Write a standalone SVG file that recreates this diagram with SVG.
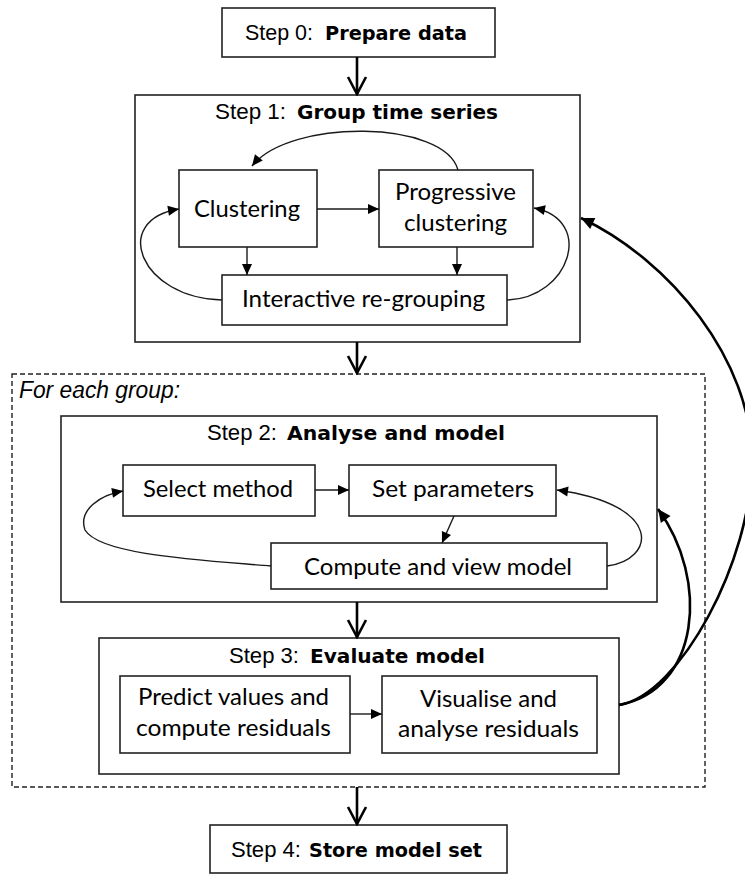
<svg xmlns="http://www.w3.org/2000/svg" width="745" height="874" viewBox="0 0 745 874">
<style>
  .box { fill: #fff; stroke: #222; stroke-width: 1.6; }
  .dash { fill: none; stroke: #222; stroke-width: 1.4; stroke-dasharray: 5 3; }
  .reg { font-family: "Liberation Sans", Arial, sans-serif; font-size: 22px; fill: #000; }
  .bold { font-family: "DejaVu Sans", "Liberation Sans", sans-serif; font-weight: bold; font-size: 20px; fill: #000; }
  .ital { font-family: "Liberation Sans", Arial, sans-serif; font-style: italic; font-size: 23px; fill: #000; }
  .lbl { font-family: Lato, "Noto Sans", sans-serif; font-size: 24px; fill: #000; text-anchor: middle; }
  .thin { fill: none; stroke: #1a1a1a; stroke-width: 1.4; marker-end: url(#tri); }
  .thick { fill: none; stroke: #000; stroke-width: 2.6; marker-end: url(#triBig); }
  .main { fill: none; stroke: #000; stroke-width: 2.6; marker-end: url(#vee); }
</style>
<defs>
  <marker id="tri" viewBox="-12 -6 13 12" refX="0" refY="0" markerWidth="13" markerHeight="12" markerUnits="userSpaceOnUse" orient="auto">
    <path d="M0,0 L-11,-5 L-11,5 Z" fill="#000"/>
  </marker>
  <marker id="triBig" viewBox="-14 -7 15 14" refX="0" refY="0" markerWidth="15" markerHeight="14" markerUnits="userSpaceOnUse" orient="auto">
    <path d="M0,0 L-13,-6 L-13,6 Z" fill="#000"/>
  </marker>
  <marker id="vee" viewBox="-20 -12 22 24" refX="0" refY="0" markerWidth="22" markerHeight="24" markerUnits="userSpaceOnUse" orient="auto">
    <path d="M-17,-9 L0,0 L-17,9" fill="none" stroke="#000" stroke-width="2.6" stroke-linejoin="miter"/>
  </marker>
</defs>

<g id="group-foreach">
  <rect class="dash" x="12" y="374" width="693" height="413"/>
  <text class="ital" x="19" y="398" textLength="161" lengthAdjust="spacingAndGlyphs">For each group:</text>
</g>

<g id="step0">
  <rect class="box" x="222" y="8" width="273" height="49"/>
  <text class="reg" x="245" y="40" textLength="68" lengthAdjust="spacingAndGlyphs">Step 0:</text>
  <text class="bold" x="325" y="40" textLength="142" lengthAdjust="spacingAndGlyphs">Prepare data</text>
</g>

<g id="step1">
  <rect class="box" x="135" y="95" width="445" height="247"/>
  <text class="reg" x="215" y="119" textLength="71" lengthAdjust="spacingAndGlyphs">Step 1:</text>
  <text class="bold" x="297" y="119" textLength="201" lengthAdjust="spacingAndGlyphs">Group time series</text>
</g>
<g id="clustering">
  <rect class="box" x="179" y="170" width="138" height="77"/>
  <text class="lbl" x="247" y="217" textLength="106" lengthAdjust="spacingAndGlyphs">Clustering</text>
</g>
<g id="progressive">
  <rect class="box" x="379" y="170" width="154" height="77"/>
  <text class="lbl" x="455.5" y="200" textLength="121" lengthAdjust="spacingAndGlyphs">Progressive</text>
  <text class="lbl" x="455.5" y="231" textLength="103" lengthAdjust="spacingAndGlyphs">clustering</text>
</g>
<g id="regrouping">
  <rect class="box" x="222" y="275" width="285" height="50"/>
  <text class="lbl" x="363.5" y="307" textLength="243" lengthAdjust="spacingAndGlyphs">Interactive re-grouping</text>
</g>

<g id="step2">
  <rect class="box" x="61" y="416" width="596" height="186"/>
  <text class="reg" x="207" y="440" textLength="70" lengthAdjust="spacingAndGlyphs">Step 2:</text>
  <text class="bold" x="287" y="440" textLength="218" lengthAdjust="spacingAndGlyphs">Analyse and model</text>
</g>
<g id="select-method">
  <rect class="box" x="123" y="465" width="192" height="51"/>
  <text class="lbl" x="218" y="497" textLength="150" lengthAdjust="spacingAndGlyphs">Select method</text>
</g>
<g id="set-parameters">
  <rect class="box" x="349" y="465" width="207" height="51"/>
  <text class="lbl" x="453" y="497" textLength="162" lengthAdjust="spacingAndGlyphs">Set parameters</text>
</g>
<g id="compute-model">
  <rect class="box" x="271" y="543" width="336" height="46"/>
  <text class="lbl" x="438" y="575" textLength="268" lengthAdjust="spacingAndGlyphs">Compute and view model</text>
</g>

<g id="step3">
  <rect class="box" x="99" y="638" width="520" height="136"/>
  <text class="reg" x="229" y="663" textLength="70" lengthAdjust="spacingAndGlyphs">Step 3:</text>
  <text class="bold" x="310" y="663" textLength="175" lengthAdjust="spacingAndGlyphs">Evaluate model</text>
</g>
<g id="predict">
  <rect class="box" x="120" y="676" width="230" height="77"/>
  <text class="lbl" x="233.5" y="705" textLength="191" lengthAdjust="spacingAndGlyphs">Predict values and</text>
  <text class="lbl" x="233.5" y="736" textLength="195" lengthAdjust="spacingAndGlyphs">compute residuals</text>
</g>
<g id="visualise">
  <rect class="box" x="382" y="676" width="215" height="77"/>
  <text class="lbl" x="488.5" y="707" textLength="137" lengthAdjust="spacingAndGlyphs">Visualise and</text>
  <text class="lbl" x="488.5" y="737" textLength="181" lengthAdjust="spacingAndGlyphs">analyse residuals</text>
</g>

<g id="step4">
  <rect class="box" x="210" y="825" width="297" height="48"/>
  <text class="reg" x="231" y="857" textLength="70" lengthAdjust="spacingAndGlyphs">Step 4:</text>
  <text class="bold" x="309" y="857" textLength="173" lengthAdjust="spacingAndGlyphs">Store model set</text>
</g>

<g id="connectors">
  <path class="main" d="M357,57 L357,94"/>
  <path class="main" d="M357,342 L357,373"/>
  <path class="main" d="M357,602 L357,637"/>
  <path class="main" d="M357,787 L357,824"/>

  <path class="thin" d="M458,170 C445,120 290,118 252,166"/>
  <path class="thin" d="M317,209 L379,209"/>
  <path class="thin" d="M247,247 L247,275"/>
  <path class="thin" d="M457,247 L457,275"/>
  <path class="thin" d="M222,300 C140,298 110,220 179,209"/>
  <path class="thin" d="M507,300 C570,298 595,220 534,208"/>

  <path class="thin" d="M315,490 L349,490"/>
  <path class="thin" d="M454,516 L442,543"/>
  <path class="thin" d="M271,566 C200,560 100,555 85,530 C78,510 100,495 123,491"/>
  <path class="thin" d="M607,566 C655,560 665,505 557,490"/>

  <path class="thin" d="M350,714 L382,714"/>

  <path class="thick" d="M619,705 C700,690 710,580 658,509"/>
  <path class="thick" d="M619,705 C680,695 752,560 752,460 C752,360 670,260 581,218"/>
</g>
</svg>
